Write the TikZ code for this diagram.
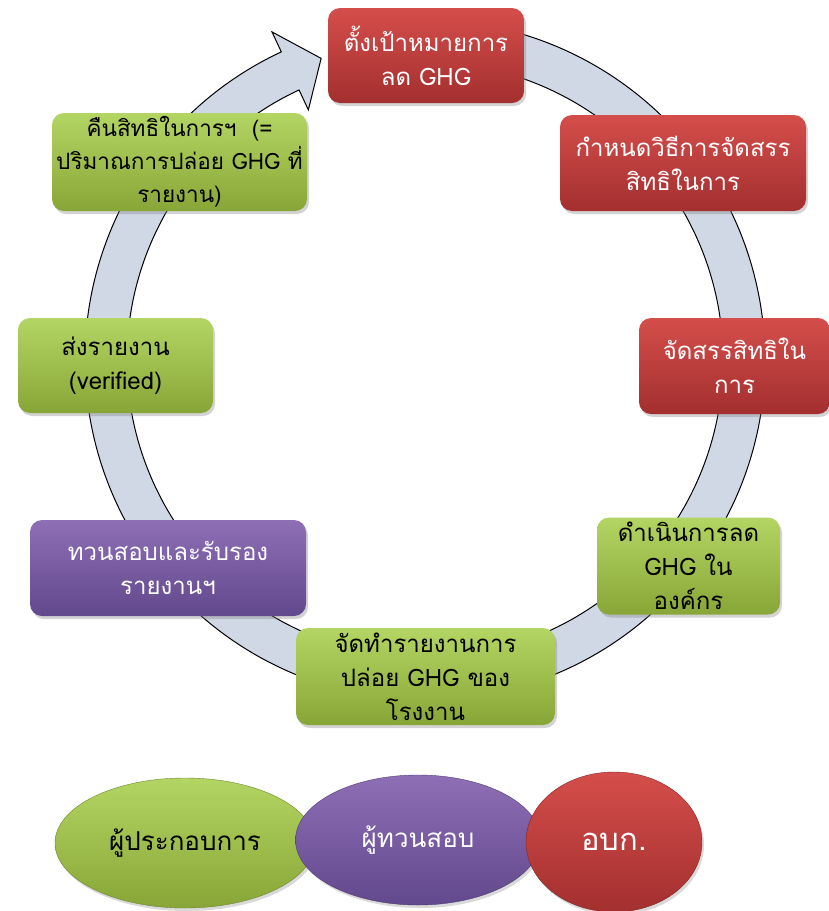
\documentclass[tikz,border=0pt]{standalone}
\usepackage{fontspec}
\setmainfont{Loma}[Script=Thai]
\usetikzlibrary{shapes.geometric,shadows}

\definecolor{ringfill}{HTML}{D0D7E5}
\definecolor{redtop}{HTML}{D44E4B}
\definecolor{redbot}{HTML}{A32F2F}
\definecolor{greentop}{HTML}{B3D563}
\definecolor{greenbot}{HTML}{88A637}
\definecolor{purptop}{HTML}{8E6FB6}
\definecolor{purpbot}{HTML}{62488C}

\tikzset{
  stagebox/.style={rounded corners=12pt, inner xsep=0pt, inner ysep=-6pt, align=center,
    drop shadow={opacity=0.35, shadow xshift=2pt, shadow yshift=-3pt},
    font=\fontsize{24}{34}\selectfont},
  redbox/.style={stagebox, top color=redtop, bottom color=redbot, text=white},
  greenbox/.style={stagebox, top color=greentop, bottom color=greenbot, text=black},
  purplebox/.style={stagebox, top color=purptop, bottom color=purpbot, text=white},
  rolebox/.style={ellipse, inner sep=0pt, font=\fontsize{26}{30}\selectfont,
    drop shadow={opacity=0.3, shadow xshift=2pt, shadow yshift=-3pt}}
}

\begin{document}
\begin{tikzpicture}[x=1pt, y=-1pt]
  \useasboundingbox (0,0) rectangle (829,911);

  % ring arrow
  \begin{scope}[shift={(425,360)}]
    \filldraw[fill=ringfill, draw=black, line width=1pt]
      (-100:340) arc[start angle=-100, end angle=245, radius=340]
      -- (245:362) -- (251:319) -- (245:276) -- (245:298)
      arc[start angle=245, end angle=-100, radius=298] -- cycle;
  \end{scope}

  % stages
  \node[redbox, minimum width=196pt, minimum height=95pt] (target) at (426,55.5)
    {ตั้งเป้าหมายการ\\ลด GHG};
  \node[redbox, minimum width=246pt, minimum height=96pt] (method) at (683,163)
    {กำหนดวิธีการจัดสรร\\สิทธิในการ};
  \node[redbox, minimum width=191pt, minimum height=96pt] (allot) at (734.5,366)
    {จัดสรรสิทธิใน\\การ};
  \node[greenbox, minimum width=183pt, minimum height=97pt] (reduce) at (688.5,566)
    {ดำเนินการลด\\GHG ใน\\องค์กร};
  \node[greenbox, minimum width=259pt, minimum height=97pt] (report) at (425.5,676.5)
    {จัดทำรายงานการ\\ปล่อย GHG ของ\\โรงงาน};
  \node[purplebox, minimum width=276pt, minimum height=96pt] (verify) at (168,568)
    {ทวนสอบและรับรอง\\รายงานฯ};
  \node[greenbox, minimum width=195pt, minimum height=95pt] (submit) at (115.5,365.5)
    {ส่งรายงาน\\(verified)};
  \node[greenbox, font=\fontsize{22.5}{33}\selectfont,
    minimum width=255pt, minimum height=98pt] (giveback) at (179.5,162)
    {คืนสิทธิในการฯ~ (=\\ปริมาณการปล่อย GHG ที่\\รายงาน)};

  % legend
  \node[rolebox, top color=greentop, bottom color=greenbot, draw=greenbot!80!black,
    minimum width=260pt, minimum height=130pt] (operator) at (185,843) {ผู้ประกอบการ};
  \node[rolebox, top color=purptop, bottom color=purpbot, draw=purpbot!80!black, text=white,
    minimum width=245pt, minimum height=130pt] (verifier) at (418,840) {ผู้ทวนสอบ};
  \node[rolebox, top color=redtop, bottom color=redbot, draw=redbot!80!black, text=white,
    font=\fontsize{31}{34}\selectfont,
    minimum width=176pt, minimum height=140pt] (tgo) at (614,842) {อบก.};
\end{tikzpicture}
\end{document}
